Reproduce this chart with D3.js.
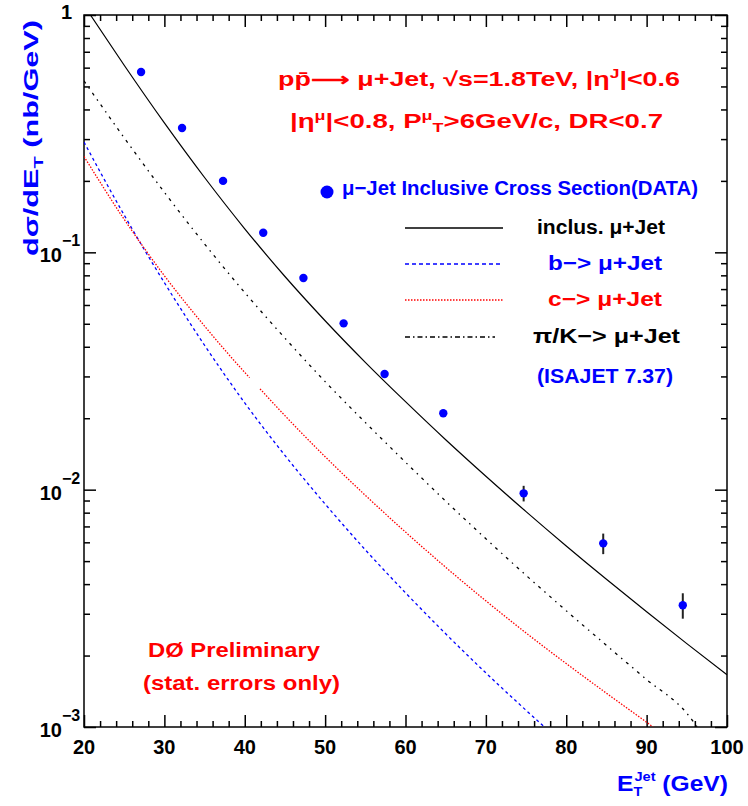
<!DOCTYPE html>
<html>
<head>
<meta charset="utf-8">
<script src="https://cdn.jsdelivr.net/npm/d3@7"></script>
<style>
  body { margin: 0; background: #fff; }
  svg { display: block; }
  text { font-family: "Liberation Sans", Arial, sans-serif; font-weight: bold; }
</style>
</head>
<body>
<svg id="chart"></svg>
<script>
// measured data points (E_T jet, cross section, stat. error)
const dataEt = [27.1, 32.2, 37.3, 42.3, 47.3, 52.3, 57.4, 64.7, 74.7, 84.6, 94.5];
const dataXs = [0.575, 0.334, 0.200, 0.121, 0.078, 0.0502, 0.0307, 0.0210, 0.00965, 0.00594, 0.00326];
const dataErr = [0.008, 0.005, 0.003, 0.002, 0.0013, 0.0009, 0.0008, 0.0007, 0.00073, 0.00059, 0.00040];

// ISAJET curves
const inclEt = [20.8, 25, 30, 35, 40, 45, 50, 55, 60, 65, 70, 75, 80, 85, 90, 95, 100];
const inclXs = [1.0, 0.614, 0.351, 0.2067, 0.1257, 0.0791, 0.0515, 0.0344, 0.02348, 0.01623, 0.01139, 0.00808, 0.00579, 0.00419, 0.00306, 0.002246, 0.00166];

const bEt = [20, 25, 30, 35, 40, 45, 50, 55, 60, 65, 70, 75, 77.3];
const bXs = [0.2915, 0.1435, 0.0745, 0.0406, 0.0232, 0.01394, 0.0087, 0.00558, 0.003677, 0.00247, 0.00169, 0.001176, 0.001];

// the c curve has a small hole near 41 GeV in the original
const cEt = [20, 25, 30, 35, 40, 40.6, 41.2, 41.9, 45, 50, 55, 60, 65, 70, 75, 80, 85, 90, 90.8];
const cXs = [0.2535, 0.1377, 0.0797, 0.0489, 0.0312, 0.02965, null, 0.0266, 0.0205, 0.01377, 0.00947, 0.00663, 0.00471, 0.0034, 0.00249, 0.00185, 0.001388, 0.001047, 0.001];

const pikEt = [20, 25, 30, 35, 40, 45, 50, 55, 60, 65, 70, 75, 80, 85, 90, 95, 96.3];
const pikXs = [0.528, 0.304, 0.179, 0.1085, 0.0677, 0.0435, 0.02853, 0.01919, 0.01305, 0.00895, 0.00621, 0.004355, 0.00309, 0.002208, 0.001585, 0.001142, 0.001];

const xTicks = [20, 30, 40, 50, 60, 70, 80, 90, 100];
const yDecades = [1, 0.1, 0.01, 0.001];
const yExponents = ['', '−1', '−2', '−3'];

const width = 748, height = 806;
const plot = { left: 84, right: 727, top: 15, bottom: 727 };

const svg = d3.select('#chart').attr('width', width).attr('height', height);

const x = d3.scaleLinear().domain([20, 100]).range([plot.left, plot.right]);
const y = d3.scaleLog().domain([0.001, 1]).range([plot.bottom, plot.top]);

// clip for curves
svg.append('clipPath').attr('id', 'plotClip')
  .append('rect').attr('x', plot.left).attr('y', plot.top)
  .attr('width', plot.right - plot.left).attr('height', plot.bottom - plot.top);

// ticks (inward on all four sides)
const xMinor = d3.range(20, 100.01, 2).filter(v => v % 10 !== 0);
const yMinor = [];
[0.001, 0.01, 0.1].forEach(d => { for (let k = 2; k <= 9; k++) yMinor.push(d * k); });

const axes = svg.append('g');
function drawAxis(axisFn, scale, values, size, tx, ty) {
  const g = axes.append('g').attr('transform', `translate(${tx},${ty})`)
    .call(axisFn(scale).tickValues(values).tickSize(size).tickFormat(''));
  g.select('.domain').remove();
  g.selectAll('line').attr('stroke', '#000').attr('stroke-width', 1.5);
}
drawAxis(d3.axisBottom, x, xTicks, -12, 0, plot.bottom);
drawAxis(d3.axisBottom, x, xMinor, -6, 0, plot.bottom);
drawAxis(d3.axisTop, x, xTicks, -12, 0, plot.top);
drawAxis(d3.axisTop, x, xMinor, -6, 0, plot.top);
drawAxis(d3.axisLeft, y, yDecades, -12, plot.left, 0);
drawAxis(d3.axisLeft, y, yMinor, -6, plot.left, 0);
drawAxis(d3.axisRight, y, yDecades, -12, plot.right, 0);
drawAxis(d3.axisRight, y, yMinor, -6, plot.right, 0);

svg.append('rect')
  .attr('x', plot.left).attr('y', plot.top)
  .attr('width', plot.right - plot.left).attr('height', plot.bottom - plot.top)
  .attr('fill', 'none').attr('stroke', '#000').attr('stroke-width', 1.5);

// tick labels
svg.append('g').selectAll('text').data(xTicks).join('text')
  .attr('x', d => x(d)).attr('y', plot.bottom + 27)
  .attr('text-anchor', 'middle').attr('font-size', 20)
  .text(d => d);

yDecades.forEach((d, i) => {
  if (i === 0) {
    svg.append('text').attr('x', 72).attr('y', y(d) + 4)
      .attr('text-anchor', 'end').attr('font-size', 20).text('1');
  } else {
    svg.append('text').attr('x', 62).attr('y', y(d) + 10)
      .attr('text-anchor', 'end').attr('font-size', 20).text('10');
    svg.append('text').attr('x', 62).attr('y', y(d) - 6)
      .attr('font-size', 16).text(yExponents[i]);
  }
});

// curves
const line = d3.line()
  .defined(d => d[1] != null)
  .x(d => x(d[0])).y(d => y(d[1]))
  .curve(d3.curveMonotoneX);

const curves = svg.append('g').attr('clip-path', 'url(#plotClip)').attr('fill', 'none');
curves.append('path').datum(d3.zip(inclEt, inclXs))
  .attr('d', line).attr('stroke', '#000').attr('stroke-width', 1.2);
curves.append('path').datum(d3.zip(pikEt, pikXs))
  .attr('d', line).attr('stroke', '#000').attr('stroke-width', 1.3).attr('stroke-dasharray', '3,5,1.5,5');
curves.append('path').datum(d3.zip(bEt, bXs))
  .attr('d', line).attr('stroke', '#0000ff').attr('stroke-width', 1.3).attr('stroke-dasharray', '3,3');
curves.append('path').datum(d3.zip(cEt, cXs))
  .attr('d', line).attr('stroke', '#ff0000').attr('stroke-width', 1.3).attr('stroke-dasharray', '1.5,1.5');

// data with error bars
const pts = d3.zip(dataEt, dataXs, dataErr);
svg.append('g').selectAll('line').data(pts).join('line')
  .attr('x1', d => x(d[0])).attr('x2', d => x(d[0]))
  .attr('y1', d => y(d[1] + d[2])).attr('y2', d => y(d[1] - d[2]))
  .attr('stroke', '#222').attr('stroke-width', 2);
svg.append('g').selectAll('circle').data(pts).join('circle')
  .attr('cx', d => x(d[0])).attr('cy', d => y(d[1])).attr('r', 4.2)
  .attr('fill', '#0000ff');

// header text
const t1 = svg.append('text').attr('x', 278).attr('y', 86).attr('font-size', 20)
  .attr('fill', '#ff0000').attr('textLength', 402).attr('lengthAdjust', 'spacingAndGlyphs');
t1.append('tspan').text('pp\u0304\u27F6 μ+Jet,  √s=1.8TeV,  |η');
t1.append('tspan').attr('dy', -8).attr('font-size', 13).text('J');
t1.append('tspan').attr('dy', 8).text('|<0.6');

const t2 = svg.append('text').attr('x', 290).attr('y', 128).attr('font-size', 20)
  .attr('fill', '#ff0000').attr('textLength', 373).attr('lengthAdjust', 'spacingAndGlyphs');
t2.append('tspan').text('|η');
t2.append('tspan').attr('dy', -8).attr('font-size', 13).text('μ');
t2.append('tspan').attr('dy', 8).text('|<0.8,  P');
t2.append('tspan').attr('dy', -8).attr('font-size', 13).text('μ');
t2.append('tspan').attr('dy', 12).attr('font-size', 13).text('T');
t2.append('tspan').attr('dy', -4).text('>6GeV/c,  DR<0.7');

// legend
svg.append('circle').attr('cx', 327).attr('cy', 192).attr('r', 6.5).attr('fill', '#0000ff');
svg.append('text').attr('x', 342).attr('y', 195).attr('font-size', 20).attr('fill', '#0000ff')
  .attr('textLength', 356).attr('lengthAdjust', 'spacingAndGlyphs')
  .text('μ−Jet Inclusive Cross Section(DATA)');

const legendRows = [
  { y: 228, x2: 503, color: '#000', dash: null, tx: 537, tw: 128, label: 'inclus. μ+Jet' },
  { y: 264, x2: 503, color: '#0000ff', dash: '4,3', tx: 548, tw: 114, label: 'b−> μ+Jet' },
  { y: 300, x2: 503, color: '#ff0000', dash: '1.5,1.5', tx: 548, tw: 114, label: 'c−> μ+Jet' },
  { y: 337, x2: 495, color: '#000', dash: '5,3,1.5,3', tx: 533, tw: 147, label: 'π/K−> μ+Jet' }
];
legendRows.forEach(r => {
  svg.append('line').attr('x1', 405).attr('x2', r.x2).attr('y1', r.y).attr('y2', r.y)
    .attr('stroke', r.color).attr('stroke-width', 1.3).attr('stroke-dasharray', r.dash);
  svg.append('text').attr('x', r.tx).attr('y', r.y + 6).attr('font-size', 20)
    .attr('fill', r.color)
    .attr('textLength', r.tw).attr('lengthAdjust', 'spacingAndGlyphs').text(r.label);
});
svg.append('text').attr('x', 537).attr('y', 383).attr('font-size', 20).attr('fill', '#0000ff')
  .attr('textLength', 136).attr('lengthAdjust', 'spacingAndGlyphs').text('(ISAJET  7.37)');

// DØ note
svg.append('text').attr('x', 148).attr('y', 657).attr('font-size', 20).attr('fill', '#ff0000')
  .attr('textLength', 172).attr('lengthAdjust', 'spacingAndGlyphs').text('DØ Preliminary');
svg.append('text').attr('x', 143).attr('y', 690).attr('font-size', 20).attr('fill', '#ff0000')
  .attr('textLength', 197).attr('lengthAdjust', 'spacingAndGlyphs').text('(stat. errors only)');

// axis titles
const xt = svg.append('text').attr('x', 617).attr('y', 791).attr('font-size', 22).attr('fill', '#0000ff')
  .attr('textLength', 111).attr('lengthAdjust', 'spacingAndGlyphs');
xt.append('tspan').text('E');
xt.append('tspan').attr('dy', 5).attr('font-size', 13).text('T');
xt.append('tspan').attr('dx', -7).attr('dy', -15).attr('font-size', 13).text('Jet');
xt.append('tspan').attr('dy', 10).text(' (GeV)');

const yt = svg.append('text').attr('transform', 'translate(38,138) rotate(-90)')
  .attr('text-anchor', 'middle').attr('font-size', 20).attr('fill', '#0000ff')
  .attr('textLength', 236).attr('lengthAdjust', 'spacingAndGlyphs');
yt.append('tspan').text('dσ/dE');
yt.append('tspan').attr('dy', 5).attr('font-size', 13).text('T');
yt.append('tspan').attr('dy', -5).text('  (nb/GeV)');
</script>
</body>
</html>
